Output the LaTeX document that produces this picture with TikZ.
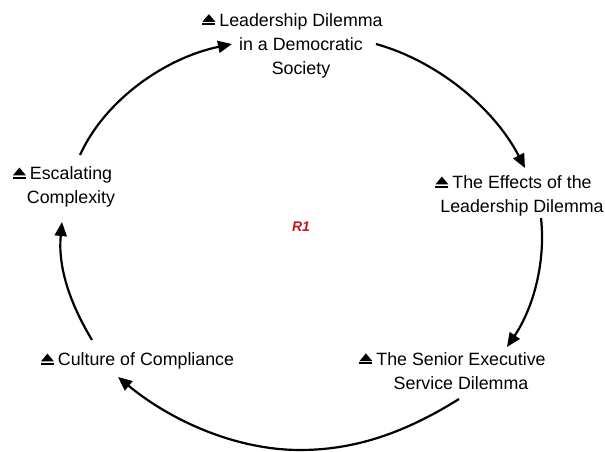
\documentclass[tikz,border=0pt]{standalone}
\usepackage{fontspec}
\setmainfont{Liberation Sans}
\usetikzlibrary{arrows.meta}
\newcommand{\ej}{\llap{\tikz[baseline=0pt,x=1pt,y=1pt]{\fill[black] (0,4.2) -- (13,4.2) -- (6.5,12) -- cycle; \fill[black] (0,1) rectangle (13,3);}\hspace{4pt}}}
\tikzset{
  lab/.style={align=center,font=\fontsize{17.8}{24}\selectfont,inner sep=0pt,text=black},
  arc/.style={line width=2.2pt,draw=black,-{Triangle[length=14pt,width=12pt]}}
}
\begin{document}
\begin{tikzpicture}[x=1pt,y=-1pt]
\useasboundingbox (0,0) rectangle (605,452);
\node[lab] (lead) at (301,45.5) {\ej Leadership Dilemma\\in a Democratic\\Society};
\node[lab] (eff) at (522,196) {\ej The Effects of the\\Leadership Dilemma};
\node[lab] (sen) at (461,371) {\ej The Senior Executive\\Service Dilemma};
\node[lab] (cul) at (146,361) {\ej Culture of Compliance};
\node[lab] (esc) at (71,187) {\ej Escalating\\Complexity};
\node[font=\fontsize{14}{16}\selectfont\bfseries\itshape,text={rgb,255:red,200;green,20;blue,35},inner sep=0pt] (r) at (301,227) {R1};
\coordinate (a1) at (376,44); \coordinate (a2) at (525,168);
\coordinate (b1) at (541,218); \coordinate (b2) at (507,347);
\coordinate (c1) at (459,399); \coordinate (c2) at (118,377);
\coordinate (d1) at (92,340); \coordinate (d2) at (62,222);
\coordinate (e1) at (80,155); \coordinate (e2) at (232,44);
\draw[arc] (a1) .. controls (440,62) and (495,110) .. (a2);
\draw[arc] (b1) .. controls (546,265) and (532,310) .. (b2);
\draw[arc] (c1) .. controls (400,436) and (350,450) .. (300,450) .. controls (235,450) and (170,420) .. (c2);
\draw[arc] (d1) .. controls (68,300) and (58,265) .. (d2);
\draw[arc] (e1) .. controls (105,100) and (165,58) .. (e2);
\end{tikzpicture}
\end{document}
